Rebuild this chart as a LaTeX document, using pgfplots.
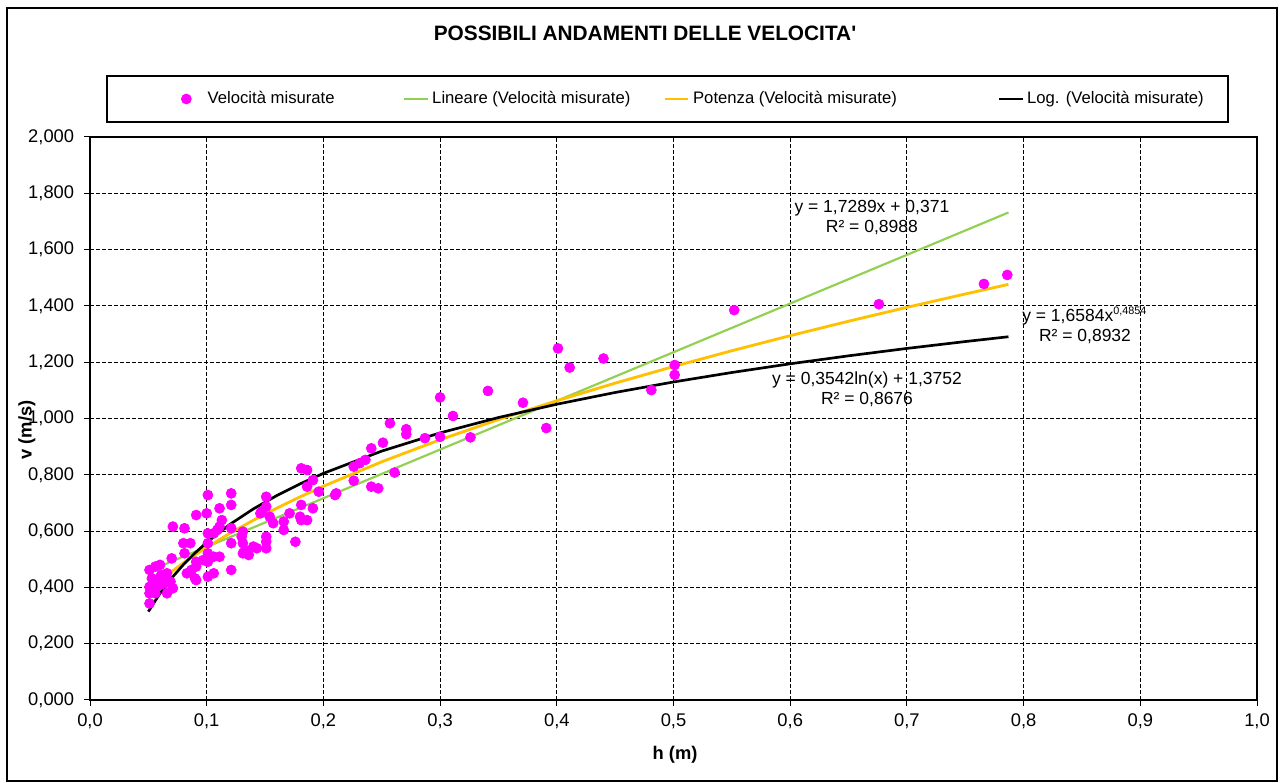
\documentclass[border=0pt]{standalone}
\usepackage{fontspec}
\setmainfont{Liberation Sans}
\usepackage{pgfplots}
\pgfplotsset{compat=1.18}

\definecolor{misura}{HTML}{FF00FF}
\definecolor{lineare}{HTML}{92D050}
\definecolor{potenza}{HTML}{FFC000}

% Measured velocities v (m/s) against water height h (m)
\pgfplotstableread{
h v
0.051 0.462
0.056 0.474
0.060 0.480
0.053 0.432
0.057 0.426
0.061 0.444
0.066 0.450
0.051 0.402
0.056 0.397
0.060 0.409
0.064 0.415
0.069 0.420
0.051 0.379
0.056 0.379
0.066 0.379
0.071 0.397
0.051 0.343
0.071 0.616
0.081 0.610
0.070 0.503
0.080 0.557
0.086 0.557
0.081 0.521
0.083 0.450
0.087 0.462
0.091 0.491
0.090 0.432
0.091 0.474
0.097 0.497
0.101 0.491
0.091 0.426
0.101 0.438
0.106 0.450
0.101 0.521
0.106 0.509
0.111 0.509
0.101 0.557
0.101 0.592
0.106 0.592
0.109 0.604
0.111 0.616
0.113 0.639
0.111 0.681
0.100 0.663
0.091 0.657
0.101 0.728
0.121 0.734
0.121 0.693
0.121 0.610
0.121 0.557
0.121 0.462
0.130 0.580
0.131 0.557
0.131 0.521
0.136 0.515
0.140 0.545
0.131 0.598
0.143 0.539
0.133 0.533
0.146 0.663
0.147 0.669
0.151 0.722
0.151 0.687
0.151 0.580
0.151 0.562
0.151 0.539
0.154 0.651
0.157 0.628
0.166 0.634
0.166 0.604
0.176 0.562
0.171 0.663
0.180 0.651
0.181 0.823
0.186 0.817
0.181 0.693
0.181 0.639
0.186 0.639
0.186 0.758
0.191 0.781
0.196 0.740
0.191 0.681
0.210 0.728
0.211 0.734
0.226 0.829
0.231 0.841
0.236 0.853
0.226 0.779
0.241 0.894
0.241 0.758
0.247 0.752
0.251 0.914
0.257 0.983
0.261 0.808
0.271 0.962
0.271 0.944
0.287 0.930
0.300 0.935
0.300 1.075
0.311 1.009
0.326 0.933
0.341 1.098
0.371 1.056
0.391 0.966
0.401 1.249
0.411 1.181
0.440 1.213
0.481 1.101
0.501 1.190
0.501 1.155
0.552 1.385
0.676 1.406
0.766 1.478
0.786 1.510
}\misure

% Trend lines evaluated from the fitted equations
\pgfplotstableread{
h v
0.050 0.4574
0.787 1.7317
}\lineare

\pgfplotstableread{
h v
0.050 0.3874
0.060 0.4232
0.070 0.4561
0.080 0.4867
0.090 0.5154
0.100 0.5423
0.120 0.5926
0.140 0.6386
0.160 0.6814
0.180 0.7215
0.200 0.7593
0.250 0.8462
0.300 0.9245
0.350 0.9963
0.400 1.0630
0.450 1.1256
0.500 1.1846
0.550 1.2407
0.600 1.2942
0.650 1.3455
0.700 1.3948
0.750 1.4423
0.787 1.4764
}\potenza

\pgfplotstableread{
h v
0.050 0.3141
0.060 0.3787
0.070 0.4333
0.080 0.4806
0.090 0.5223
0.100 0.5596
0.120 0.6242
0.140 0.6788
0.160 0.7261
0.180 0.7678
0.200 0.8051
0.250 0.8842
0.300 0.9488
0.350 1.0034
0.400 1.0507
0.450 1.0924
0.500 1.1297
0.550 1.1634
0.600 1.1943
0.650 1.2226
0.700 1.2489
0.750 1.2733
0.787 1.2904
}\logaritmo

\begin{document}
\begin{tikzpicture}
\useasboundingbox (0,0) rectangle (769.8pt,469.8pt);
\fill[white] (0,0) rectangle (769.8pt,469.8pt);
\draw[line width=1.2pt] (4.2pt,1.2pt) rectangle (766.2pt,465pt);
\node[font=\bfseries\fontsize{12.5}{14}\selectfont] at (387pt,450pt) {POSSIBILI ANDAMENTI DELLE VELOCITA\textquotesingle};
\draw[line width=0.9pt] (64.2pt,396.6pt) rectangle (736.8pt,424.2pt);
\begin{axis}[
  at={(54pt,49.8pt)}, anchor=south west,
  scale only axis, width=700.2pt, height=337.8pt,
  xmin=0, xmax=1, ymin=0, ymax=2,
  xtick={0,0.1,0.2,0.3,0.4,0.5,0.6,0.7,0.8,0.9,1.0},
  ytick={0,0.2,0.4,0.6,0.8,1.0,1.2,1.4,1.6,1.8,2.0},
  xticklabel style={yshift=-1pt, /pgf/number format/.cd, fixed, fixed zerofill, precision=1, use comma, assume math mode=true},
  yticklabel style={xshift=-2.5pt, /pgf/number format/.cd, fixed, fixed zerofill, precision=3, use comma, assume math mode=true},
  ticklabel style={font=\fontsize{11}{13}\selectfont},
  tick align=outside, tick pos=left, major tick length=3.5pt,
  tick style={black, line width=0.6pt},
  axis line style={line width=0.8pt},
  grid=major,
  major grid style={black, line width=0.6pt, dash pattern=on 2.4pt off 1.2pt},
  xlabel={\textbf{h (m)}},
  ylabel={\textbf{v (m/s)}},
  label style={font=\fontsize{11}{13}\selectfont},
  xlabel style={at={(axis description cs:0.5013,-0.0977)}, anchor=center},
  ylabel style={at={(axis description cs:-0.054,0.4796)}, anchor=center, rotate=0},
  legend columns=4,
  legend style={draw=none, fill=none, at={(axis description cs:0.0780,1.0675)}, anchor=west,
    inner sep=0pt, font=\fontsize{10}{12}\selectfont,
    /tikz/every even column/.append style={column sep=0pt}},
  legend cell align=left,
  trend/.style={legend image code/.code={\draw[##1] (0cm,0cm) -- (0.5cm,0cm);}},
]
\addplot[only marks, mark=*, mark size=3pt, color=misura] table[x=h, y=v] {\misure};
\addlegendentry{\makebox[123pt][l]{\hspace*{7.8pt}Velocità misurate}}
\addplot[lineare, line width=1.3pt, trend] table[x=h, y=v] {\lineare};
\addlegendentry{\makebox[136.6pt][l]{Lineare (Velocità misurate)}}
\addplot[potenza, line width=1.7pt, trend] table[x=h, y=v] {\potenza};
\addlegendentry{\makebox[180.6pt][l]{Potenza (Velocità misurate)}}
\addplot[black, line width=1.6pt, trend] table[x=h, y=v] {\logaritmo};
\addlegendentry{Log. (Velocità misurate)}

\begin{scope}[every node/.style={font=\fontsize{10.5}{12}\selectfont, inner sep=0pt}]
\node at (axis cs:0.670,1.748) {y = 1,7289x + 0,371};
\node at (axis cs:0.670,1.677) {R² = 0,8988};
\node[anchor=west] at (axis cs:0.7986,1.364) {y = 1,6584x\textsuperscript{\fontsize{6.5}{7}\selectfont 0,4854}};
\node at (axis cs:0.8526,1.290) {R² = 0,8932};
\node at (axis cs:0.6658,1.137) {y = 0,3542ln(x) + 1,3752};
\node at (axis cs:0.6658,1.066) {R² = 0,8676};
\end{scope}
\end{axis}
\end{tikzpicture}
\end{document}
